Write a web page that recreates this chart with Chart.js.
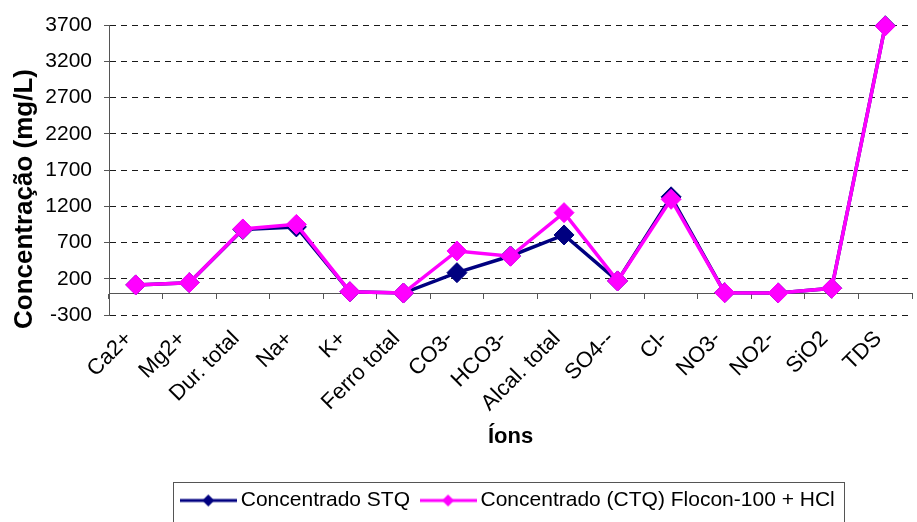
<!DOCTYPE html>
<html lang="pt">
<head>
<meta charset="utf-8">
<title>Concentração de íons</title>
<script src="https://cdn.jsdelivr.net/npm/chart.js@4.4.1/dist/chart.umd.min.js"></script>
<style>
  html, body { margin: 0; padding: 0; background: #fff; overflow: hidden; }
  #wrap { width: 923px; height: 522px; }
  canvas { display: block; }
</style>
</head>
<body>
<div id="wrap"><canvas id="chart" width="923" height="522"></canvas></div>
<script>
// Ions analysed
const ions = ['Ca2+', 'Mg2+', 'Dur. total', 'Na+', 'K+', 'Ferro total', 'CO3-', 'HCO3-',
              'Alcal. total', 'SO4--', 'Cl-', 'NO3-', 'NO2-', 'SiO2', 'TDS'];
// Concentrations (mg/L)
const concentradoSTQ = [115, 146, 880, 915, 20, 3, 284, 514, 804, 170, 1330, 8, 5, 69, 3690];
const concentradoCTQ = [115, 146, 887, 950, 22, 3, 583, 510, 1112, 170, 1296, 8, 5, 69, 3686];
// Value axis ticks
const yTicks = [-300, 200, 700, 1200, 1700, 2200, 2700, 3200, 3700];

const seriesNames = ['Concentrado STQ', 'Concentrado (CTQ) Flocon-100 + HCl'];
const NAVY = '#000080';
const MAGENTA = '#FF00FF';
const FONT = '"Liberation Sans", Arial, sans-serif';

Chart.defaults.font.family = FONT;
Chart.defaults.color = '#000';

// Legend symbol: short line with a small diamond in the middle
function legendSymbol(color) {
  const c = document.createElement('canvas');
  c.width = 57; c.height = 14;
  const g = c.getContext('2d');
  g.strokeStyle = color;
  g.lineWidth = 3;
  g.beginPath(); g.moveTo(0, 7); g.lineTo(57, 7); g.stroke();
  g.fillStyle = color;
  g.beginPath();
  g.moveTo(28.5, 1); g.lineTo(34.5, 7); g.lineTo(28.5, 13); g.lineTo(22.5, 7);
  g.closePath(); g.fill();
  return c;
}
const symbols = [legendSymbol(NAVY), legendSymbol(MAGENTA)];

// Rotated value-axis title
const yTitlePlugin = {
  id: 'yTitle',
  afterDraw(chart) {
    const ctx = chart.ctx;
    ctx.save();
    ctx.translate(32, 199);
    ctx.rotate(-Math.PI / 2);
    ctx.font = 'bold 26px ' + FONT;
    ctx.fillStyle = '#000';
    ctx.textAlign = 'center';
    ctx.textBaseline = 'alphabetic';
    ctx.fillText('Concentração (mg/L)', 0, 0);
    ctx.restore();
  }
};

// Frame around the legend
const legendFramePlugin = {
  id: 'legendFrame',
  afterDraw(chart) {
    const lg = chart.legend;
    if (!lg || !lg.legendHitBoxes || !lg.legendHitBoxes.length) return;
    const hb = lg.legendHitBoxes;
    const left = Math.min(...hb.map(h => h.left)) - 13;
    const right = Math.max(...hb.map(h => h.left + h.width)) + 10;
    const top = hb[0].top - 8;
    const ctx = chart.ctx;
    ctx.save();
    ctx.strokeStyle = '#555';
    ctx.lineWidth = 1;
    ctx.strokeRect(Math.round(left) + 0.5, Math.round(top) + 0.5,
                   Math.round(right - left), 530 - Math.round(top));
    ctx.restore();
  }
};

new Chart(document.getElementById('chart'), {
  type: 'line',
  data: {
    labels: ions,
    datasets: [
      {
        label: seriesNames[0],
        data: concentradoSTQ,
        borderColor: NAVY,
        backgroundColor: NAVY,
        borderWidth: 3.5,
        pointStyle: 'rectRot',
        pointRadius: 10,
        pointBorderWidth: 1,
        pointBorderColor: NAVY,
        pointBackgroundColor: NAVY,
        tension: 0,
        clip: false,
        order: 2
      },
      {
        label: seriesNames[1],
        data: concentradoCTQ,
        borderColor: MAGENTA,
        backgroundColor: MAGENTA,
        borderWidth: 3.5,
        pointStyle: 'rectRot',
        pointRadius: 10,
        pointBorderWidth: 1,
        pointBorderColor: MAGENTA,
        pointBackgroundColor: MAGENTA,
        tension: 0,
        clip: false,
        order: 1
      }
    ]
  },
  options: {
    responsive: false,
    animation: false,
    devicePixelRatio: 1,
    layout: { padding: { top: 25, right: 0, bottom: 1, left: 0 } },
    scales: {
      x: {
        type: 'category',
        position: 'bottom',
        offset: true,
        grid: { display: false, drawTicks: false },
        border: { display: false },
        ticks: {
          autoSkip: false,
          maxRotation: 45,
          minRotation: 45,
          padding: 11,
          labelOffset: -7,
          font: { size: 22 },
          color: '#000'
        },
        title: {
          display: true,
          text: 'Íons',
          font: { size: 22, weight: 'bold' },
          color: '#000',
          padding: { top: 0, bottom: 24 }
        },
        afterFit(scale) { scale.height = 159; }
      },
      xZero: {
        type: 'category',
        axis: 'x',
        position: { y: 0 },
        offset: true,
        grid: {
          display: true,
          offset: true,
          drawOnChartArea: false,
          drawTicks: true,
          tickLength: 5,
          tickColor: '#555'
        },
        border: { display: true, color: '#555', width: 1 },
        ticks: { display: false }
      },
      y: {
        type: 'linear',
        position: 'left',
        min: -300,
        max: 3700,
        afterBuildTicks(scale) { scale.ticks = yTicks.map(v => ({ value: v })); },
        grid: {
          display: true,
          color: '#1a1a1a',
          lineWidth: 1,
          drawTicks: true,
          tickLength: 5,
          tickColor: '#555',
          tickBorderDash: []
        },
        border: { display: true, color: '#555', width: 1, dash: [6, 5] },
        ticks: {
          padding: 12,
          font: { size: 21 },
          color: '#000',
          callback: v => String(v)
        },
        afterFit(scale) { scale.width = 109; }
      }
    },
    plugins: {
      legend: {
        display: true,
        position: 'bottom',
        fullSize: false,
        labels: {
          font: { size: 21 },
          color: '#000',
          usePointStyle: true,
          pointStyleWidth: 44,
          padding: 16,
          sort: (a, b) => a.datasetIndex - b.datasetIndex,
          generateLabels(chart) {
            const items = Chart.defaults.plugins.legend.labels.generateLabels(chart);
            items.forEach(it => { it.pointStyle = symbols[it.datasetIndex]; });
            return items;
          }
        }
      },
      tooltip: { enabled: false }
    }
  },
  plugins: [yTitlePlugin, legendFramePlugin]
});
</script>
</body>
</html>
